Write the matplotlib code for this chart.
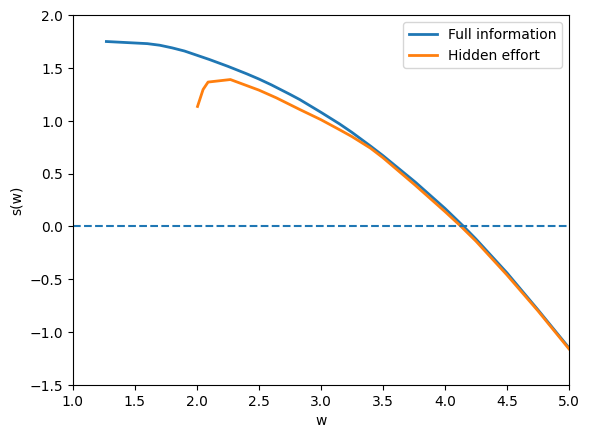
import matplotlib
matplotlib.use("Agg")
import matplotlib.pyplot as plt

w_full = [1.27, 1.6, 1.7, 1.8, 1.9, 2.0, 2.1, 2.25, 2.4, 2.5, 2.6, 2.75, 2.83, 3.0, 3.15, 3.25, 3.4, 3.5, 3.76, 4.0, 4.15, 4.25, 4.5, 4.75, 5.0]
s_full = [1.75, 1.73, 1.715, 1.69, 1.66, 1.62, 1.58, 1.515, 1.445, 1.395, 1.34, 1.25, 1.2, 1.08, 0.97, 0.89, 0.76, 0.67, 0.42, 0.17, 0.0, -0.12, -0.44, -0.79, -1.15]

w_hidden = [2.005, 2.05, 2.09, 2.27, 2.5, 2.64, 2.83, 3.0, 3.15, 3.25, 3.4, 3.5, 3.76, 4.0, 4.12, 4.25, 4.5, 4.75, 5.0]
s_hidden = [1.135, 1.296, 1.366, 1.39, 1.29, 1.217, 1.106, 1.01, 0.915, 0.85, 0.74, 0.65, 0.39, 0.14, 0.01, -0.14, -0.46, -0.80, -1.16]

fig, ax = plt.subplots(figsize=(6.4, 4.8), dpi=100)
ax.plot(w_full, s_full, linewidth=2, label="Full information")
ax.plot(w_hidden, s_hidden, linewidth=2, label="Hidden effort")
ax.axhline(0, linestyle="--")
ax.set_xlim(1, 5)
ax.set_ylim(-1.5, 2)
ax.set_xlabel("w")
ax.set_ylabel("s(w)")
ax.legend(loc="upper right")
fig.savefig("out.png", dpi=100, bbox_inches="tight")
